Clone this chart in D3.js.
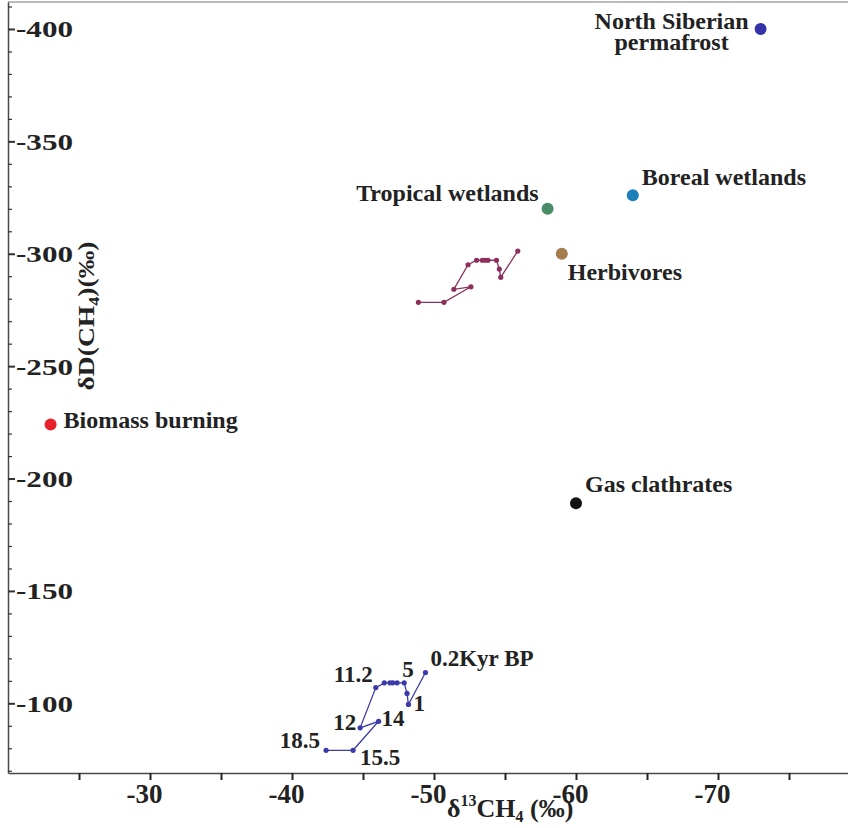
<!DOCTYPE html>
<html>
<head>
<meta charset="utf-8">
<script src="https://cdn.jsdelivr.net/npm/d3@7"></script>
<style>
  html, body { margin: 0; padding: 0; background: #fff; }
  svg { display: block; font-family: "Liberation Serif", "Times New Roman", serif; font-weight: bold; }
</style>
</head>
<body>
<svg id="chart" width="848" height="828"></svg>
<script>
// ---------- data ----------
const sourceNames = ["North Siberian permafrost", "Boreal wetlands", "Tropical wetlands", "Herbivores", "Biomass burning", "Gas clathrates"];
const sourceD13C  = [-73, -64, -58, -59, -23, -60];
const sourceDD    = [-400, -326, -320, -300, -224, -189];
const sourceColors = ["#3434a8", "#1a80b8", "#4a8c68", "#a67d4f", "#e8222a", "#111111"];

// upper (maroon) trajectory
const trajAD13C = [-48.9, -50.7, -52.6, -51.4, -52.4, -53.0, -53.4, -53.6, -53.8, -54.4, -54.6, -54.7, -55.9];
const trajADD   = [-278.4, -278.4, -285.3, -284.2, -295.1, -297.1, -297.1, -297.1, -297.1, -297.1, -293.2, -289.5, -301.2];

// lower (blue) trajectory, ice-core record
const trajBD13C = [-42.4, -44.3, -46.1, -44.8, -45.9, -46.5, -46.9, -47.1, -47.4, -47.9, -48.1, -48.2, -49.4];
const trajBDD   = [-79.1, -79.1, -92.0, -89.1, -107.0, -109.1, -109.1, -109.1, -109.1, -109.1, -104.4, -99.5, -113.7];
const trajBLabels = ["18.5", "15.5", "14", "12", "11.2", "", "", "", "", "5", "", "1", "0.2Kyr BP"];

const xTickValues = [-25, -30, -35, -40, -45, -50, -55, -60, -65, -70, -75];
const xTickLabels = ["", "-30", "", "-40", "", "-50", "", "-60", "", "-70", ""];
const yTickValues = d3.range(-410, -69, 10);
const yTickLabels = ["-400", "-350", "-300", "-250", "-200", "-150", "-100"];

// ---------- layout (not data) ----------
const sourceLabelLayout = [
  {dx: -89, dy: 0, anchor: "middle", lines: ["North Siberian", "permafrost"], lh: 21},
  {dx: 9, dy: -10, anchor: "start"},
  {dx: -9, dy: -8, anchor: "end"},
  {dx: 6, dy: 26, anchor: "start"},
  {dx: 13, dy: 3, anchor: "start"},
  {dx: 9, dy: -11, anchor: "start"}
];
const trajBLabelLayout = [
  {dx: -6, dy: -2, anchor: "end"},
  {dx: 7, dy: 15, anchor: "start"},
  {dx: 3, dy: 5, anchor: "start"},
  {dx: -4, dy: 2, anchor: "end"},
  {dx: -3, dy: -6, anchor: "end"},
  null, null, null, null,
  {dx: -2, dy: -6, anchor: "start"},
  null,
  {dx: 5, dy: 7, anchor: "start"},
  {dx: 5, dy: -7, anchor: "start"}
];

// ---------- chart ----------
const svg = d3.select("#chart");
const x = d3.scaleLinear().domain([-20, -80]).range([8, 860]);
const y = d3.scaleLinear().domain([-69, -412]).range([773, 2]);
const axisColor = "#4a4a4a";
const fontFam = "Liberation Serif, Times New Roman, serif";

// frame line at top
svg.append("line").attr("x1", 8).attr("x2", 848).attr("y1", 2).attr("y2", 2)
  .attr("stroke", "#777").attr("stroke-width", 1.2);

// x axis
const xAxis = svg.append("g").attr("transform", "translate(0,773)")
  .call(d3.axisBottom(x).tickValues(xTickValues).tickSize(7).tickSizeOuter(0)
    .tickFormat((d, i) => xTickLabels[i]));
xAxis.select(".domain").attr("stroke", axisColor).attr("stroke-width", 1.5);
xAxis.selectAll(".tick line").attr("stroke", "#222").attr("stroke-width", 2);
xAxis.selectAll(".tick text").attr("fill", "#222").attr("font-size", 27).attr("font-weight", "bold")
  .attr("font-family", fontFam)
  .attr("dy", null).attr("y", 30).attr("x", -6);

// y axis (ticks inside, labels inside)
const yAxis = svg.append("g").attr("transform", "translate(8,0)")
  .call(d3.axisRight(y).tickValues(yTickValues).tickSize(4).tickSizeOuter(0)
    .tickFormat(d => (d % 50 === 0 ? yTickLabels[yTickLabels.indexOf(String(d))] : "")));
yAxis.select(".domain").attr("stroke", axisColor).attr("stroke-width", 1.5);
yAxis.selectAll(".tick line").attr("stroke", "#333")
  .attr("x2", d => (d % 50 === 0 ? 7 : 4))
  .attr("stroke-width", d => (d % 50 === 0 ? 2 : 1.2));
yAxis.selectAll(".tick text")
  .attr("fill", "#222").attr("font-size", 24).attr("font-weight", "bold")
  .attr("font-family", fontFam)
  .attr("text-anchor", "start").attr("x", 8).attr("dy", null).attr("y", 8)
  .filter(d => d % 50 === 0).attr("textLength", 57).attr("lengthAdjust", "spacingAndGlyphs");

// axis titles
const xt = svg.append("text").attr("x", 447).attr("y", 817).attr("font-size", 26).attr("fill", "#222");
xt.append("tspan").text("δ");
xt.append("tspan").attr("font-size", 16).attr("dy", -11).text("13");
xt.append("tspan").attr("dy", 11).text("CH");
xt.append("tspan").attr("font-size", 16).attr("dy", 5).text("4");
xt.append("tspan").attr("dy", -5).text(" (‰)");

const ytg = svg.append("g").attr("transform", "translate(94,316) rotate(-90) scale(1.2,1)");
const yt = ytg.append("text").attr("text-anchor", "middle").attr("font-size", 23).attr("fill", "#222");
yt.append("tspan").text("δD(CH");
yt.append("tspan").attr("font-size", 15).attr("dy", 5).text("4");
yt.append("tspan").attr("dy", -5).text(")(‰)");

// trajectories
const line = d3.line().x(d => x(d[0])).y(d => y(d[1]));
const trajA = trajAD13C.map((v, i) => [v, trajADD[i]]);
const trajB = trajBD13C.map((v, i) => [v, trajBDD[i]]);

svg.append("path").datum(trajA).attr("d", line).attr("fill", "none")
  .attr("stroke", "#8c2f5c").attr("stroke-width", 1.3);
svg.selectAll(".ptA").data(trajA).enter().append("circle")
  .attr("cx", d => x(d[0])).attr("cy", d => y(d[1])).attr("r", 2.6).attr("fill", "#8c2f5c");

svg.append("path").datum(trajB).attr("d", line).attr("fill", "none")
  .attr("stroke", "#3a3aaa").attr("stroke-width", 1.3);
svg.selectAll(".ptB").data(trajB).enter().append("circle")
  .attr("cx", d => x(d[0])).attr("cy", d => y(d[1])).attr("r", 2.6).attr("fill", "#3a3aaa");

trajB.forEach((d, i) => {
  const lay = trajBLabelLayout[i];
  if (!lay || !trajBLabels[i]) return;
  svg.append("text").attr("x", x(d[0]) + lay.dx).attr("y", y(d[1]) + lay.dy)
    .attr("text-anchor", lay.anchor).attr("font-size", 23).attr("fill", "#222")
    .text(trajBLabels[i]);
});

// sources
sourceNames.forEach((name, i) => {
  const cx = x(sourceD13C[i]), cy = y(sourceDD[i]);
  svg.append("circle").attr("cx", cx).attr("cy", cy).attr("r", 6).attr("fill", sourceColors[i]);
  const lay = sourceLabelLayout[i];
  const lines = lay.lines || [name];
  lines.forEach((ln, k) => {
    svg.append("text").attr("text-anchor", lay.anchor).attr("font-size", 24).attr("fill", "#222")
      .attr("x", cx + lay.dx).attr("y", cy + lay.dy + k * (lay.lh || 0)).text(ln);
  });
});
</script>
</body>
</html>
